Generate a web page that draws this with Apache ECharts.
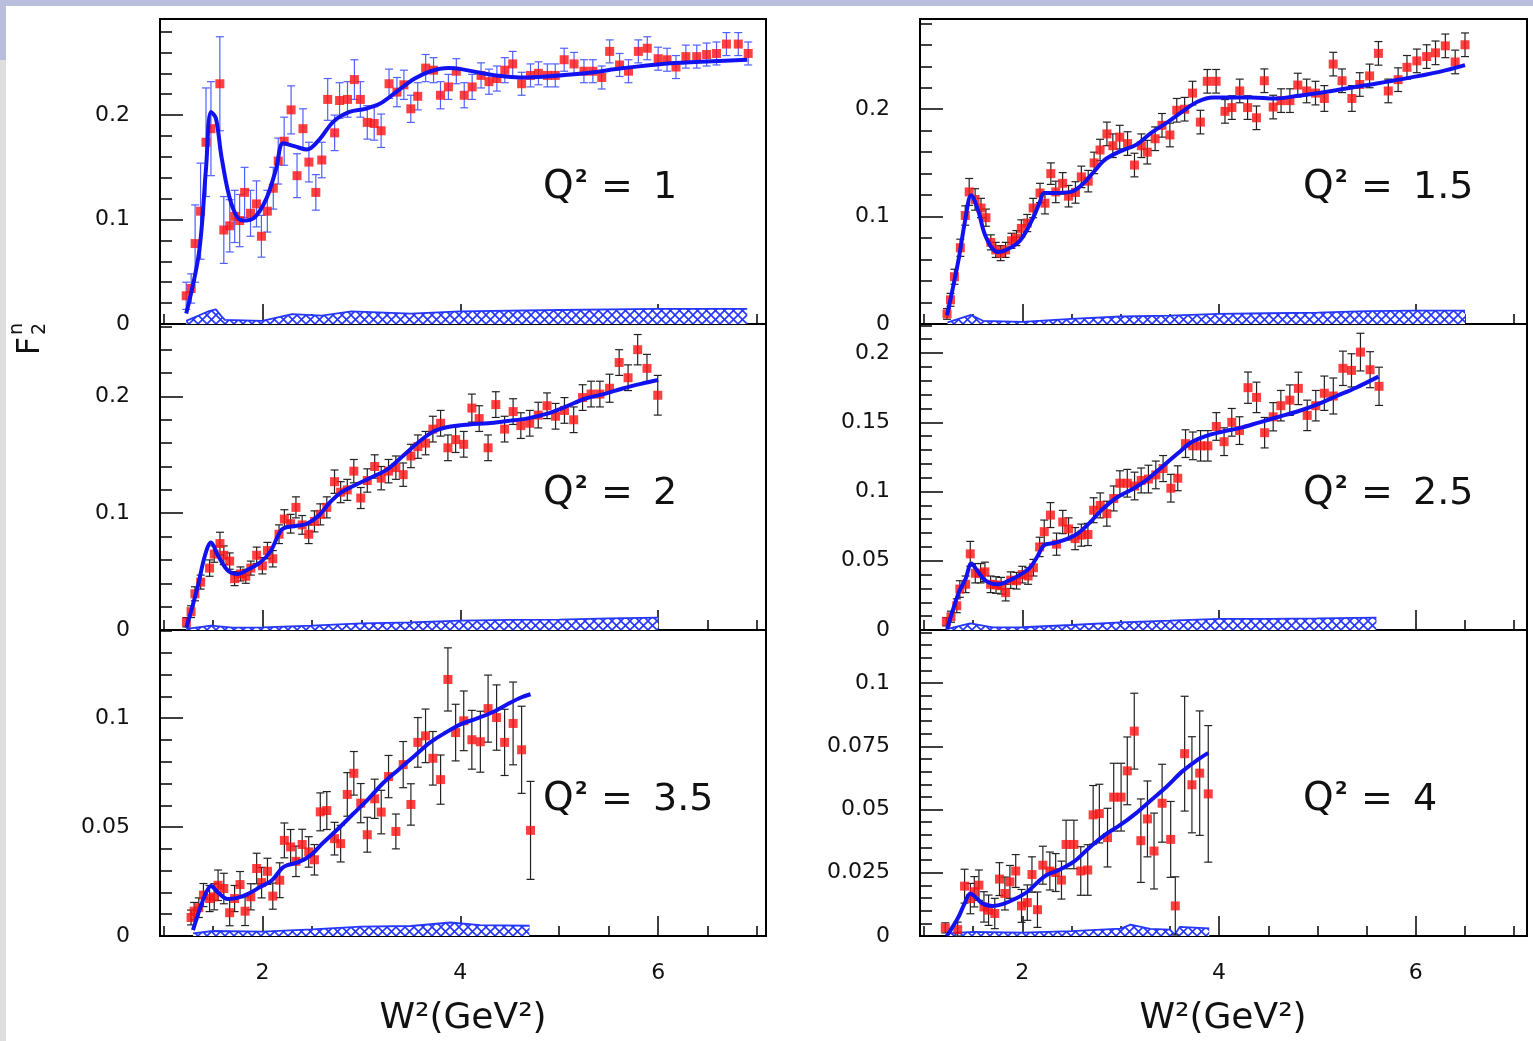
<!DOCTYPE html>
<html><head><meta charset="utf-8">
<script src="https://cdn.jsdelivr.net/npm/echarts@6/dist/echarts.min.js"></script>
<style>html,body{margin:0;padding:0;background:#fff;}#c{width:1533px;height:1041px;}</style>
</head><body><div id="c"></div>
<script>
// ---------------- DATA ----------------
const panelNames = ['1', '1.5', '2', '2.5', '3.5', '4'];
const xTickLabels = [2, 4, 6];
const xMinorTicks = [1, 1.5, 2.5, 3, 3.5, 4.5, 5, 5.5, 6.5, 7];

// Q^2 = 1
const q1X = [1.23,1.28,1.32,1.375,1.43,1.48,1.57,1.61,1.67,1.72,1.77,1.82,1.88,1.94,1.99,2.05,2.11,2.16,2.22,2.29,2.35,2.41,2.47,2.54,2.60,2.66,2.73,2.78,2.86,2.93,2.99,3.06,3.13,3.20,3.28,3.36,3.43,3.50,3.57,3.65,3.73,3.80,3.88,3.96,4.04,4.12,4.21,4.29,4.37,4.45,4.53,4.62,4.71,4.79,4.88,4.96,5.05,5.15,5.25,5.34,5.43,5.51,5.61,5.70,5.80,5.89,6.00,6.09,6.18,6.28,6.39,6.49,6.59,6.69,6.81,6.91];
const q1Y = [0.027,0.034,0.077,0.108,0.174,0.187,0.230,0.090,0.094,0.103,0.099,0.126,0.106,0.115,0.084,0.108,0.130,0.156,0.175,0.205,0.142,0.187,0.155,0.126,0.157,0.215,0.183,0.214,0.215,0.234,0.215,0.193,0.192,0.185,0.230,0.222,0.229,0.206,0.218,0.245,0.243,0.219,0.227,0.242,0.219,0.227,0.238,0.232,0.235,0.243,0.249,0.230,0.238,0.240,0.238,0.238,0.253,0.249,0.242,0.242,0.236,0.261,0.248,0.242,0.261,0.264,0.254,0.253,0.246,0.256,0.256,0.258,0.259,0.268,0.268,0.259];
const q1Err = [0.013,0.014,0.037,0.046,0.052,0.045,0.045,0.032,0.025,0.025,0.025,0.024,0.022,0.022,0.02,0.02,0.02,0.022,0.023,0.023,0.021,0.019,0.019,0.017,0.017,0.02,0.017,0.017,0.017,0.019,0.017,0.016,0.016,0.016,0.014,0.014,0.014,0.013,0.013,0.013,0.012,0.013,0.012,0.012,0.012,0.012,0.012,0.012,0.012,0.012,0.012,0.011,0.011,0.011,0.011,0.011,0.011,0.011,0.011,0.011,0.011,0.011,0.011,0.011,0.011,0.011,0.011,0.011,0.011,0.011,0.011,0.011,0.011,0.011,0.011,0.011];
const q1CurveX = [1.23,1.36,1.43,1.48,1.53,1.59,1.69,1.80,1.92,2.04,2.14,2.21,2.33,2.45,2.57,2.72,2.88,3.04,3.19,3.35,3.54,3.70,3.88,4.01,4.17,4.36,4.60,4.87,5.26,5.65,6.04,6.43,6.90];
const q1CurveY = [0.010,0.069,0.149,0.203,0.197,0.158,0.114,0.099,0.102,0.120,0.149,0.173,0.170,0.167,0.176,0.194,0.203,0.206,0.211,0.222,0.235,0.242,0.245,0.244,0.241,0.238,0.236,0.237,0.240,0.245,0.249,0.251,0.253];
const q1BandX = [1.23,1.45,1.53,1.58,1.62,2.0,2.3,2.6,2.9,3.5,4.0,5.0,6.0,6.9];
const q1BandY = [0.003,0.012,0.014,0.008,0.004,0.003,0.0095,0.008,0.012,0.010,0.012,0.0134,0.0144,0.0144];

// Q^2 = 1.5
const q15X = [1.235,1.27,1.31,1.37,1.42,1.46,1.52,1.58,1.63,1.68,1.73,1.78,1.83,1.89,1.94,1.99,2.05,2.11,2.18,2.23,2.29,2.34,2.41,2.47,2.54,2.60,2.67,2.73,2.79,2.86,2.92,2.99,3.07,3.14,3.21,3.27,3.35,3.42,3.50,3.57,3.65,3.73,3.81,3.88,3.97,4.06,4.13,4.21,4.29,4.38,4.46,4.55,4.63,4.72,4.80,4.89,4.98,5.07,5.16,5.25,5.35,5.43,5.53,5.62,5.72,5.82,5.91,6.01,6.11,6.20,6.30,6.40,6.50];
const q15Y = [0.0094,0.0225,0.044,0.071,0.101,0.123,0.116,0.108,0.099,0.076,0.069,0.066,0.069,0.0775,0.080,0.089,0.094,0.108,0.122,0.1125,0.140,0.123,0.131,0.119,0.1225,0.137,0.133,0.150,0.162,0.177,0.166,0.174,0.168,0.148,0.166,0.160,0.1725,0.185,0.176,0.199,0.200,0.215,0.188,0.226,0.226,0.198,0.2015,0.217,0.2015,0.192,0.2265,0.202,0.208,0.208,0.2225,0.217,0.215,0.210,0.242,0.2265,0.210,0.223,0.231,0.252,0.217,0.2275,0.239,0.245,0.249,0.2525,0.259,0.244,0.260];
const q15Err = [0.005,0.006,0.007,0.008,0.009,0.0125,0.01,0.009,0.008,0.007,0.007,0.007,0.007,0.007,0.007,0.008,0.008,0.009,0.009,0.01,0.01,0.01,0.01,0.01,0.01,0.01,0.01,0.01,0.01,0.011,0.011,0.011,0.011,0.011,0.011,0.011,0.011,0.011,0.011,0.011,0.011,0.011,0.011,0.011,0.011,0.011,0.011,0.011,0.011,0.011,0.011,0.011,0.011,0.011,0.011,0.011,0.011,0.012,0.011,0.011,0.012,0.011,0.011,0.011,0.011,0.011,0.011,0.011,0.011,0.011,0.011,0.011,0.011];
const q15CurveX = [1.235,1.35,1.42,1.48,1.55,1.63,1.75,1.86,1.98,2.10,2.18,2.22,2.33,2.49,2.61,2.73,2.84,3.00,3.16,3.31,3.47,3.63,3.78,3.94,4.10,4.33,4.57,4.80,5.08,5.47,5.86,6.25,6.50];
const q15CurveY = [0.008,0.059,0.097,0.120,0.106,0.081,0.067,0.070,0.078,0.097,0.114,0.122,0.122,0.123,0.130,0.142,0.153,0.161,0.167,0.178,0.1875,0.198,0.207,0.211,0.211,0.211,0.210,0.2125,0.216,0.222,0.228,0.235,0.241];
const q15BandX = [1.24,1.48,1.6,2.0,2.5,3.0,3.5,4.0,4.5,5.0,5.5,6.0,6.5];
const q15BandY = [0.0016,0.0084,0.003,0.002,0.0047,0.007,0.0078,0.0094,0.010,0.0106,0.012,0.0125,0.0125];

// Q^2 = 2
const q2X = [1.232,1.279,1.318,1.376,1.466,1.513,1.571,1.610,1.669,1.719,1.778,1.832,1.883,1.942,2.000,2.051,2.105,2.168,2.222,2.285,2.339,2.402,2.468,2.526,2.585,2.651,2.729,2.791,2.858,2.924,2.994,3.060,3.135,3.201,3.275,3.349,3.423,3.501,3.571,3.649,3.723,3.801,3.875,3.953,4.035,4.117,4.191,4.281,4.359,4.448,4.534,4.612,4.702,4.788,4.877,4.963,5.053,5.146,5.236,5.322,5.411,5.509,5.606,5.696,5.793,5.887,5.996];
const q2Y = [0.0066,0.0157,0.031,0.041,0.053,0.065,0.074,0.064,0.059,0.044,0.048,0.046,0.053,0.064,0.055,0.068,0.061,0.082,0.095,0.091,0.105,0.090,0.082,0.093,0.099,0.105,0.127,0.118,0.120,0.136,0.113,0.128,0.140,0.130,0.136,0.139,0.133,0.149,0.157,0.160,0.172,0.177,0.156,0.163,0.159,0.190,0.181,0.156,0.193,0.172,0.187,0.175,0.177,0.184,0.192,0.183,0.188,0.180,0.199,0.202,0.202,0.207,0.229,0.216,0.240,0.224,0.201];
const q2Err = [0.004,0.005,0.006,0.006,0.007,0.007,0.0097,0.008,0.007,0.006,0.006,0.006,0.006,0.007,0.007,0.007,0.007,0.008,0.008,0.008,0.009,0.008,0.008,0.009,0.009,0.009,0.01,0.009,0.009,0.01,0.009,0.01,0.01,0.01,0.01,0.01,0.01,0.01,0.01,0.01,0.011,0.011,0.011,0.011,0.011,0.012,0.011,0.011,0.011,0.011,0.011,0.011,0.011,0.011,0.011,0.011,0.011,0.011,0.011,0.011,0.011,0.012,0.011,0.011,0.013,0.012,0.017];
const q2CurveX = [1.232,1.34,1.42,1.48,1.55,1.65,1.75,1.86,1.98,2.08,2.16,2.21,2.33,2.45,2.57,2.68,2.80,2.96,3.11,3.27,3.42,3.58,3.73,3.89,4.09,4.28,4.48,4.67,4.87,5.06,5.26,5.45,5.65,5.84,6.00];
const q2CurveY = [0.002,0.035,0.064,0.075,0.064,0.051,0.048,0.052,0.058,0.067,0.081,0.087,0.089,0.091,0.098,0.109,0.118,0.125,0.131,0.138,0.149,0.161,0.170,0.174,0.176,0.177,0.179,0.181,0.185,0.191,0.198,0.202,0.207,0.211,0.214];
const q2BandX = [1.23,1.48,1.7,2.0,2.5,3.0,3.5,4.0,4.5,5.0,5.5,6.0];
const q2BandY = [0.001,0.0037,0.002,0.0023,0.0037,0.0057,0.0066,0.008,0.0086,0.0089,0.010,0.0106];

// Q^2 = 2.5
const q25X = [1.228,1.275,1.334,1.365,1.424,1.471,1.522,1.576,1.620,1.678,1.733,1.784,1.831,1.882,1.941,2.000,2.059,2.113,2.176,2.223,2.286,2.348,2.411,2.470,2.537,2.600,2.667,2.725,2.792,2.859,2.929,2.992,3.067,3.141,3.208,3.282,3.357,3.431,3.510,3.580,3.659,3.733,3.812,3.886,3.972,4.051,4.129,4.208,4.294,4.381,4.463,4.550,4.628,4.719,4.806,4.896,4.983,5.070,5.161,5.259,5.346,5.437,5.535,5.626];
const q25Y = [0.006,0.0096,0.0175,0.0296,0.033,0.055,0.041,0.041,0.042,0.033,0.0325,0.032,0.027,0.036,0.0356,0.040,0.039,0.045,0.060,0.071,0.083,0.062,0.078,0.073,0.066,0.0685,0.069,0.0865,0.090,0.084,0.095,0.106,0.106,0.104,0.108,0.109,0.112,0.1166,0.1024,0.1096,0.1346,0.133,0.133,0.133,0.147,0.136,0.150,0.144,0.175,0.168,0.1425,0.154,0.162,0.166,0.1745,0.155,0.162,0.171,0.169,0.189,0.1875,0.2007,0.188,0.176];
const q25Err = [0.003,0.004,0.005,0.006,0.006,0.009,0.007,0.007,0.007,0.006,0.006,0.006,0.006,0.006,0.006,0.006,0.006,0.006,0.007,0.0084,0.009,0.008,0.0084,0.008,0.008,0.008,0.008,0.009,0.009,0.009,0.009,0.009,0.01,0.01,0.009,0.01,0.01,0.0094,0.01,0.009,0.01,0.01,0.011,0.011,0.01,0.01,0.01,0.01,0.0113,0.011,0.011,0.0102,0.011,0.011,0.0117,0.011,0.011,0.0124,0.013,0.0124,0.012,0.0136,0.013,0.0138];
const q25CurveX = [1.236,1.353,1.424,1.482,1.541,1.627,1.745,1.863,1.98,2.078,2.157,2.223,2.333,2.451,2.569,2.686,2.804,2.961,3.118,3.275,3.431,3.588,3.706,3.863,4.02,4.216,4.412,4.608,4.804,5.0,5.196,5.392,5.62];
const q25CurveY = [0.0007,0.027,0.037,0.048,0.043,0.0356,0.033,0.0356,0.040,0.045,0.0536,0.0613,0.063,0.0656,0.070,0.0776,0.0865,0.0957,0.1017,0.109,0.1185,0.128,0.135,0.140,0.143,0.146,0.150,0.154,0.158,0.163,0.169,0.175,0.183];
const q25BandX = [1.23,1.47,1.7,2.0,2.5,3.0,3.5,4.0,4.5,5.0,5.6];
const q25BandY = [0.0007,0.0048,0.0019,0.002,0.0036,0.0055,0.0067,0.008,0.008,0.0084,0.009];

// Q^2 = 3.5
const q35X = [1.279,1.31,1.357,1.404,1.466,1.513,1.552,1.61,1.669,1.719,1.774,1.825,1.883,1.942,1.992,2.051,2.105,2.175,2.222,2.285,2.339,2.402,2.468,2.526,2.585,2.651,2.729,2.791,2.858,2.924,2.994,3.06,3.135,3.201,3.275,3.349,3.423,3.501,3.571,3.649,3.723,3.801,3.875,3.953,4.035,4.117,4.203,4.281,4.367,4.448,4.534,4.62,4.71];
const q35Y = [0.0085,0.0114,0.013,0.0188,0.0172,0.018,0.0233,0.0218,0.0107,0.0172,0.0236,0.0114,0.018,0.031,0.0245,0.0297,0.0183,0.0256,0.0439,0.0409,0.0343,0.042,0.0386,0.035,0.057,0.0576,0.0447,0.0424,0.065,0.0747,0.061,0.0465,0.063,0.0569,0.0732,0.048,0.0787,0.0604,0.0889,0.0919,0.0816,0.0718,0.1178,0.0934,0.0988,0.0901,0.0892,0.1044,0.1003,0.0889,0.0976,0.0855,0.0485];
const q35Err = [0.0034,0.004,0.0045,0.0053,0.006,0.006,0.007,0.007,0.006,0.006,0.006,0.0066,0.006,0.007,0.007,0.006,0.006,0.008,0.008,0.008,0.007,0.007,0.007,0.007,0.0087,0.0087,0.0075,0.0084,0.01,0.01,0.009,0.008,0.009,0.01,0.0097,0.008,0.0106,0.0095,0.0114,0.0123,0.0123,0.0113,0.0145,0.013,0.0137,0.0135,0.014,0.0154,0.015,0.0152,0.019,0.02,0.0225];
const q35CurveX = [1.298,1.357,1.427,1.48,1.55,1.649,1.747,1.863,1.98,2.097,2.195,2.253,2.37,2.487,2.604,2.76,2.916,3.072,3.228,3.384,3.54,3.696,3.852,4.008,4.164,4.32,4.476,4.613,4.71];
const q35CurveY = [0.0027,0.011,0.0195,0.023,0.020,0.017,0.0175,0.0195,0.0226,0.0256,0.031,0.0325,0.034,0.037,0.0424,0.049,0.056,0.063,0.0706,0.0767,0.0828,0.0889,0.0934,0.0973,0.0998,0.1026,0.1064,0.1095,0.111];
const q35BandX = [1.3,1.5,2.0,2.5,3.0,3.5,3.9,4.2,4.7];
const q35BandY = [0.0012,0.0023,0.002,0.003,0.0043,0.0046,0.0062,0.005,0.0047];

// Q^2 = 4
const q4X = [1.217,1.343,1.413,1.472,1.512,1.559,1.61,1.657,1.72,1.768,1.823,1.874,1.933,1.992,2.051,2.098,2.154,2.209,2.28,2.339,2.398,2.445,2.524,2.594,2.665,2.72,2.783,2.866,2.929,3.004,3.067,3.138,3.205,3.272,3.339,3.421,3.508,3.555,3.65,3.724,3.803,3.89];
const q4Y = [0.0032,0.0025,0.0197,0.0148,0.0175,0.0201,0.0115,0.0102,0.0089,0.0225,0.0168,0.0214,0.0257,0.0119,0.0132,0.0243,0.0104,0.028,0.0257,0.0251,0.0221,0.0362,0.0362,0.0257,0.0261,0.0479,0.0484,0.0389,0.0549,0.0549,0.0653,0.081,0.0377,0.0463,0.0336,0.0525,0.0382,0.0119,0.0721,0.0598,0.0644,0.0562];
const q4Err = [0.002,0.003,0.0067,0.006,0.006,0.006,0.006,0.006,0.006,0.0065,0.0065,0.0065,0.0065,0.0065,0.007,0.007,0.007,0.0075,0.0075,0.0075,0.0075,0.0096,0.0096,0.0096,0.01,0.0116,0.0116,0.0116,0.0134,0.0134,0.0134,0.015,0.0165,0.015,0.015,0.0154,0.015,0.0115,0.0227,0.019,0.0246,0.027];
const q4CurveX = [1.232,1.343,1.413,1.472,1.52,1.598,1.697,1.815,1.933,2.051,2.169,2.248,2.366,2.524,2.681,2.839,2.996,3.154,3.311,3.469,3.626,3.783,3.89];
const q4CurveY = [0,0.0069,0.0128,0.0168,0.0155,0.0128,0.0119,0.0128,0.0148,0.0175,0.0217,0.0241,0.026,0.0294,0.0349,0.040,0.0439,0.0485,0.0538,0.0591,0.0651,0.0697,0.0724];
const q4BandX = [1.24,1.5,2.0,2.5,3.0,3.1,3.3,3.5,3.55,3.6,3.9];
const q4BandY = [0.001,0.0016,0.0013,0.0019,0.0029,0.0045,0.0028,0.0025,0.0005,0.0036,0.003];

// y tick labels per panel
const yTicksQ1 = [0, 0.1, 0.2];
const yTicksQ15 = [0, 0.1, 0.2];
const yTicksQ2 = [0, 0.1, 0.2];
const yTicksQ25 = [0, 0.05, 0.1, 0.15, 0.2];
const yTicksQ35 = [0, 0.05, 0.1];
const yTicksQ4 = [0, 0.025, 0.05, 0.075, 0.1];

// ---------------- LAYOUT / STYLE ----------------
const FONT = 'DejaVu Sans';
const panels = [
  {name: panelNames[0], px: q1X, py: q1Y, pe: q1Err, cx: q1CurveX, cy: q1CurveY, bx: q1BandX, by: q1BandY, yt: yTicksQ1},
  {name: panelNames[1], px: q15X, py: q15Y, pe: q15Err, cx: q15CurveX, cy: q15CurveY, bx: q15BandX, by: q15BandY, yt: yTicksQ15},
  {name: panelNames[2], px: q2X, py: q2Y, pe: q2Err, cx: q2CurveX, cy: q2CurveY, bx: q2BandX, by: q2BandY, yt: yTicksQ2},
  {name: panelNames[3], px: q25X, py: q25Y, pe: q25Err, cx: q25CurveX, cy: q25CurveY, bx: q25BandX, by: q25BandY, yt: yTicksQ25},
  {name: panelNames[4], px: q35X, py: q35Y, pe: q35Err, cx: q35CurveX, cy: q35CurveY, bx: q35BandX, by: q35BandY, yt: yTicksQ35},
  {name: panelNames[5], px: q4X, py: q4Y, pe: q4Err, cx: q4CurveX, cy: q4CurveY, bx: q4BandX, by: q4BandY, yt: yTicksQ4}
];
const layout = [
  {left: 160, top: 19, width: 606, height: 305, xMin: 0.965, xMax: 7.09, yMax: 0.292, minor: 0.02, lab: [543, 188], errColor: '#5060ff', bottom: false},
  {left: 920, top: 19, width: 607, height: 305, xMin: 0.96, xMax: 7.13, yMax: 0.284, minor: 0.02, lab: [1303, 188], errColor: '#222', bottom: false},
  {left: 160, top: 324, width: 606, height: 306, xMin: 0.965, xMax: 7.09, yMax: 0.262, minor: 0.02, lab: [543, 494], errColor: '#222', bottom: false},
  {left: 920, top: 324, width: 607, height: 306, xMin: 0.96, xMax: 7.13, yMax: 0.221, minor: 0.01, lab: [1303, 494], errColor: '#222', bottom: false},
  {left: 160, top: 630, width: 606, height: 306, xMin: 0.965, xMax: 7.09, yMax: 0.1405, minor: 0.01, lab: [543, 800], errColor: '#222', bottom: true},
  {left: 920, top: 630, width: 607, height: 306, xMin: 0.96, xMax: 7.13, yMax: 0.121, minor: 0.005, lab: [1303, 800], errColor: '#222', bottom: true}
];

// cross-hatch pattern for the systematic band
const HS = 9;
const hatch = document.createElement('canvas');
hatch.width = HS; hatch.height = HS;
(function () {
  const g = hatch.getContext('2d');
  g.fillStyle = '#ffffff'; g.fillRect(0, 0, HS, HS);
  g.strokeStyle = '#2536ff'; g.lineWidth = 1.6;
  g.beginPath();
  g.moveTo(-1, -1); g.lineTo(HS + 1, HS + 1);
  g.moveTo(HS + 1, -1); g.lineTo(-1, HS + 1);
  g.stroke();
})();

function zip(a, b) { return a.map((v, i) => [v, b[i]]); }
function fmt(v) { return String(+(+v).toFixed(3)); }

function makeErr(color) {
  return function (params, api) {
    const x = api.value(0), lo = Math.max(api.value(1), 0), hi = api.value(2);
    const a = api.coord([x, lo]), b = api.coord([x, hi]);
    const w = 4, st = {stroke: color, lineWidth: 1.2};
    return {type: 'group', children: [
      {type: 'line', shape: {x1: a[0], y1: a[1], x2: b[0], y2: b[1]}, style: st},
      {type: 'line', shape: {x1: a[0] - w, y1: a[1], x2: a[0] + w, y2: a[1]}, style: st},
      {type: 'line', shape: {x1: b[0] - w, y1: b[1], x2: b[0] + w, y2: b[1]}, style: st}
    ]};
  };
}

const grid = [], xAxis = [], yAxis = [], series = [], graphic = [];

// page decoration strips
graphic.push({type: 'rect', shape: {x: 0, y: 0, width: 1533, height: 6}, style: {fill: '#b9bedc'}, silent: true});
graphic.push({type: 'rect', shape: {x: 0, y: 6, width: 6, height: 54}, style: {fill: '#b9bedc'}, silent: true});
graphic.push({type: 'rect', shape: {x: 0, y: 60, width: 6, height: 981}, style: {fill: '#dedede'}, silent: true});

const TXT = '#111';
panels.forEach((p, i) => {
  const L = layout[i];
  grid.push({left: L.left, top: L.top, width: L.width, height: L.height, show: true,
    borderColor: '#000', borderWidth: 2, backgroundColor: 'rgba(0,0,0,0)', containLabel: false});
  const minors = [];
  for (let k = 1; k * L.minor < L.yMax - 1e-9; k++) {
    const v = +(k * L.minor).toFixed(4);
    if (!p.yt.some(t => Math.abs(t - v) < 1e-9)) minors.push(v);
  }
  xAxis.push({gridIndex: i, type: 'value', position: 'bottom', offset: 0, min: L.xMin, max: L.xMax,
    axisLine: {show: false}, splitLine: {show: false},
    axisTick: {show: true, inside: true, length: 20, customValues: xTickLabels, lineStyle: {color: '#000', width: 1.5}},
    axisLabel: {show: L.bottom, customValues: xTickLabels, fontSize: 22, fontFamily: FONT, color: TXT, margin: 26}});
  xAxis.push({gridIndex: i, type: 'value', position: 'bottom', offset: 0, min: L.xMin, max: L.xMax,
    axisLine: {show: false}, splitLine: {show: false},
    axisTick: {show: true, inside: true, length: 10, customValues: xMinorTicks, lineStyle: {color: '#000', width: 1.5}},
    axisLabel: {show: false}});
  yAxis.push({gridIndex: i, type: 'value', position: 'left', offset: 0, min: 0, max: L.yMax,
    axisLine: {show: false}, splitLine: {show: false},
    axisTick: {show: true, inside: true, length: 23, customValues: p.yt, lineStyle: {color: '#000', width: 1.5}},
    axisLabel: {show: true, customValues: p.yt, formatter: fmt, fontSize: 22, fontFamily: FONT, color: TXT, margin: 30}});
  yAxis.push({gridIndex: i, type: 'value', position: 'left', offset: 0, min: 0, max: L.yMax,
    axisLine: {show: false}, splitLine: {show: false},
    axisTick: {show: true, inside: true, length: 12, customValues: minors, lineStyle: {color: '#000', width: 1.5}},
    axisLabel: {show: false}});

  const xi = 2 * i, yi = 2 * i;
  series.push({type: 'line', xAxisIndex: xi, yAxisIndex: yi, data: zip(p.bx, p.by), symbol: 'none',
    lineStyle: {color: '#2536ff', width: 1.8}, areaStyle: {color: {image: hatch, repeat: 'repeat'}, opacity: 1, origin: 'start'},
    z: 2, silent: true});
  series.push({type: 'custom', xAxisIndex: xi, yAxisIndex: yi, renderItem: makeErr(L.errColor),
    data: p.px.map((x, k) => [x, p.py[k] - p.pe[k], p.py[k] + p.pe[k]]), encode: {x: 0, y: [1, 2]}, z: 3, silent: true});
  series.push({type: 'scatter', xAxisIndex: xi, yAxisIndex: yi, data: zip(p.px, p.py), symbol: 'rect', symbolSize: 9,
    itemStyle: {color: '#ff1010'}, z: 4, silent: true});
  series.push({type: 'line', xAxisIndex: xi, yAxisIndex: yi, data: zip(p.cx, p.cy), symbol: 'none', smooth: 0.35,
    lineStyle: {color: '#1212f0', width: 4}, z: 5, silent: true});

  // Q^2 label, pieces placed individually
  const f = '"' + FONT + '"';
  graphic.push({type: 'text', x: L.lab[0], y: L.lab[1], silent: true,
    style: {text: 'Q', font: '39px ' + f, fill: TXT, textVerticalAlign: 'middle', textAlign: 'left'}});
  graphic.push({type: 'text', x: L.lab[0] + 32, y: L.lab[1] - 11, silent: true,
    style: {text: '2', font: 'bold 18px ' + f, fill: TXT, textVerticalAlign: 'middle', textAlign: 'left'}});
  graphic.push({type: 'text', x: L.lab[0] + 58, y: L.lab[1], silent: true,
    style: {text: '=', font: '38px ' + f, fill: TXT, textVerticalAlign: 'middle', textAlign: 'left'}});
  graphic.push({type: 'text', x: L.lab[0] + 110, y: L.lab[1], silent: true,
    style: {text: p.name, font: '38px ' + f, fill: TXT, textVerticalAlign: 'middle', textAlign: 'left'}});
});

// axis titles
[463, 1223].forEach(cx => {
  graphic.push({type: 'text', x: cx, y: 1019, silent: true,
    style: {text: 'W\u00B2(GeV\u00B2)', font: '36px "' + FONT + '"', fill: TXT, textAlign: 'center', textVerticalAlign: 'middle'}});
});
graphic.push({type: 'group', x: 31, y: 346, rotation: Math.PI / 2, silent: true, children: [
  {type: 'text', x: 0, y: 0, style: {text: 'F', font: '32px "' + FONT + '"', fill: TXT, textAlign: 'center', textVerticalAlign: 'middle'}},
  {type: 'text', x: 11, y: 9, style: {text: '2', font: '19px "' + FONT + '"', fill: TXT, textAlign: 'left', textVerticalAlign: 'middle'}},
  {type: 'text', x: 11, y: -14, style: {text: 'n', font: '19px "' + FONT + '"', fill: TXT, textAlign: 'left', textVerticalAlign: 'middle'}}
]});

const chart = echarts.init(document.getElementById('c'), null, {renderer: 'canvas'});
chart.setOption({animation: false, backgroundColor: '#ffffff', grid, xAxis, yAxis, series, graphic});
</script></body></html>
